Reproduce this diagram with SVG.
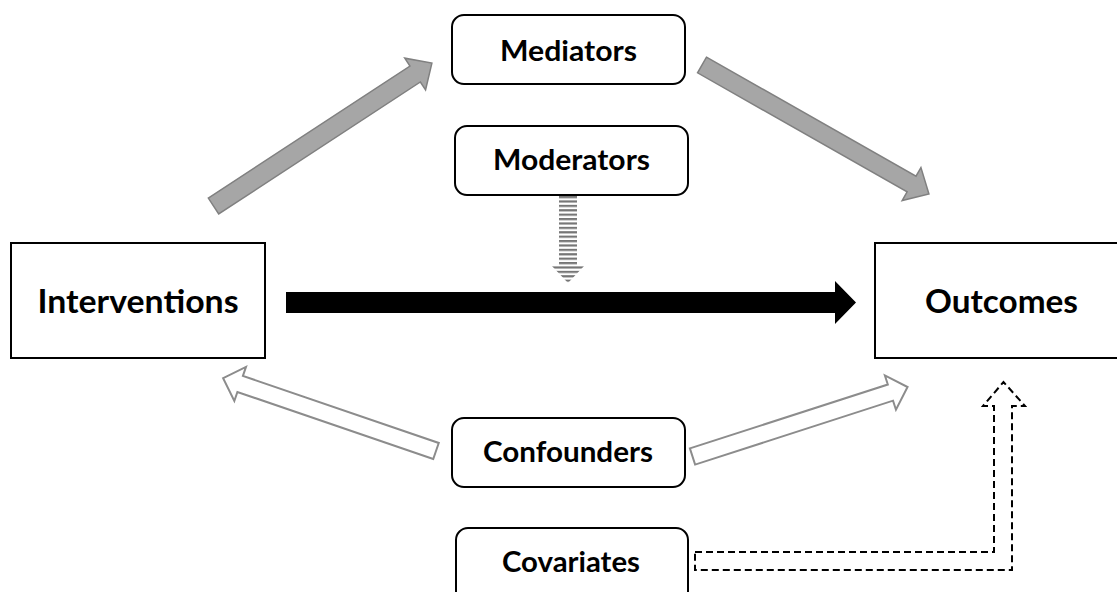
<svg xmlns="http://www.w3.org/2000/svg" width="1117" height="592" viewBox="0 0 1117 592">
  <style>
    .box { fill: #ffffff; stroke: #000000; stroke-width: 2; }
    .lbl { font-family: Lato, "Liberation Sans", Arial, sans-serif; font-weight: 700; fill: #000000; text-anchor: middle; }
    .big { font-size: 32px; }
    .small { font-size: 29px; }
    .solid-grey { fill: #a6a6a6; stroke: #808080; stroke-width: 1.5; stroke-linejoin: miter; }
    .hollow { fill: #ffffff; stroke: #8c8c8c; stroke-width: 2; stroke-linejoin: miter; }
    .main { fill: #000000; stroke: none; }
    .dashed { fill: none; stroke: #000000; stroke-width: 2; stroke-dasharray: 7 4; }
  </style>
  <defs>
    <!-- horizontal hatch used by the moderating-effect arrow -->
    <pattern id="hatch" patternUnits="userSpaceOnUse" x="0" y="196" width="8" height="4.4">
      <rect x="0" y="0" width="8" height="2.2" fill="#767676"/>
    </pattern>
  </defs>

  <rect width="1117" height="592" fill="#ffffff"/>

  <!-- connectors -->
  <g id="connectors">
    <!-- Interventions -> Mediators -->
    <polygon class="solid-grey" transform="translate(213.5,206) rotate(-33.2)"
             points="0,-9.5 241,-9.5 241,-19 261,0 241,19 241,9.5 0,9.5"/>
    <!-- Mediators -> Outcomes -->
    <polygon class="solid-grey" transform="translate(702,65) rotate(29.6)"
             points="0,-9 241,-9 241,-19 261,0 241,19 241,9 0,9"/>
    <!-- Moderators -> main effect -->
    <polygon fill="url(#hatch)" points="559,196 577,196 577,265 585,265 568,283 551,265 559,265"/>
    <!-- Interventions -> Outcomes (main effect) -->
    <polygon class="main" points="286,292 835,292 835,281 856,302.5 835,324 835,313 286,313"/>
    <!-- Confounders -> Interventions -->
    <polygon class="hollow" transform="translate(436,451) rotate(198.9)"
             points="0,-8.5 207,-8.5 207,-18 225,0 207,18 207,8.5 0,8.5"/>
    <!-- Confounders -> Outcomes -->
    <polygon class="hollow" transform="translate(692.5,456.5) rotate(-17.9)"
             points="0,-8.5 208,-8.5 208,-18 226,0 208,18 208,8.5 0,8.5"/>
    <!-- Covariates -> Outcomes (elbow) -->
    <polygon class="dashed" points="695,552 994,552 994,406 983,406 1003.5,382 1025,406 1012,406 1012,570 695,570"/>
  </g>

  <!-- nodes -->
  <g id="interventions">
    <rect class="box" x="11" y="243" width="254" height="115"/>
    <text class="lbl big" x="138" y="313" textLength="201" lengthAdjust="spacingAndGlyphs">Interventions</text>
  </g>
  <g id="outcomes">
    <rect class="box" x="875" y="243" width="260" height="115"/>
    <text class="lbl big" x="1001.5" y="313" textLength="153" lengthAdjust="spacingAndGlyphs">Outcomes</text>
  </g>
  <g id="mediators">
    <rect class="box" x="452" y="15" width="233" height="69" rx="12"/>
    <text class="lbl small" x="568.5" y="61" textLength="137" lengthAdjust="spacingAndGlyphs">Mediators</text>
  </g>
  <g id="moderators">
    <rect class="box" x="455" y="126" width="233" height="69" rx="12"/>
    <text class="lbl small" x="571.5" y="170" textLength="157" lengthAdjust="spacingAndGlyphs">Moderators</text>
  </g>
  <g id="confounders">
    <rect class="box" x="452" y="418" width="233" height="69" rx="12"/>
    <text class="lbl small" x="568" y="462" textLength="170" lengthAdjust="spacingAndGlyphs">Confounders</text>
  </g>
  <g id="covariates">
    <rect class="box" x="456" y="528" width="232" height="80" rx="12"/>
    <text class="lbl small" x="571" y="572" textLength="138" lengthAdjust="spacingAndGlyphs">Covariates</text>
  </g>
</svg>
